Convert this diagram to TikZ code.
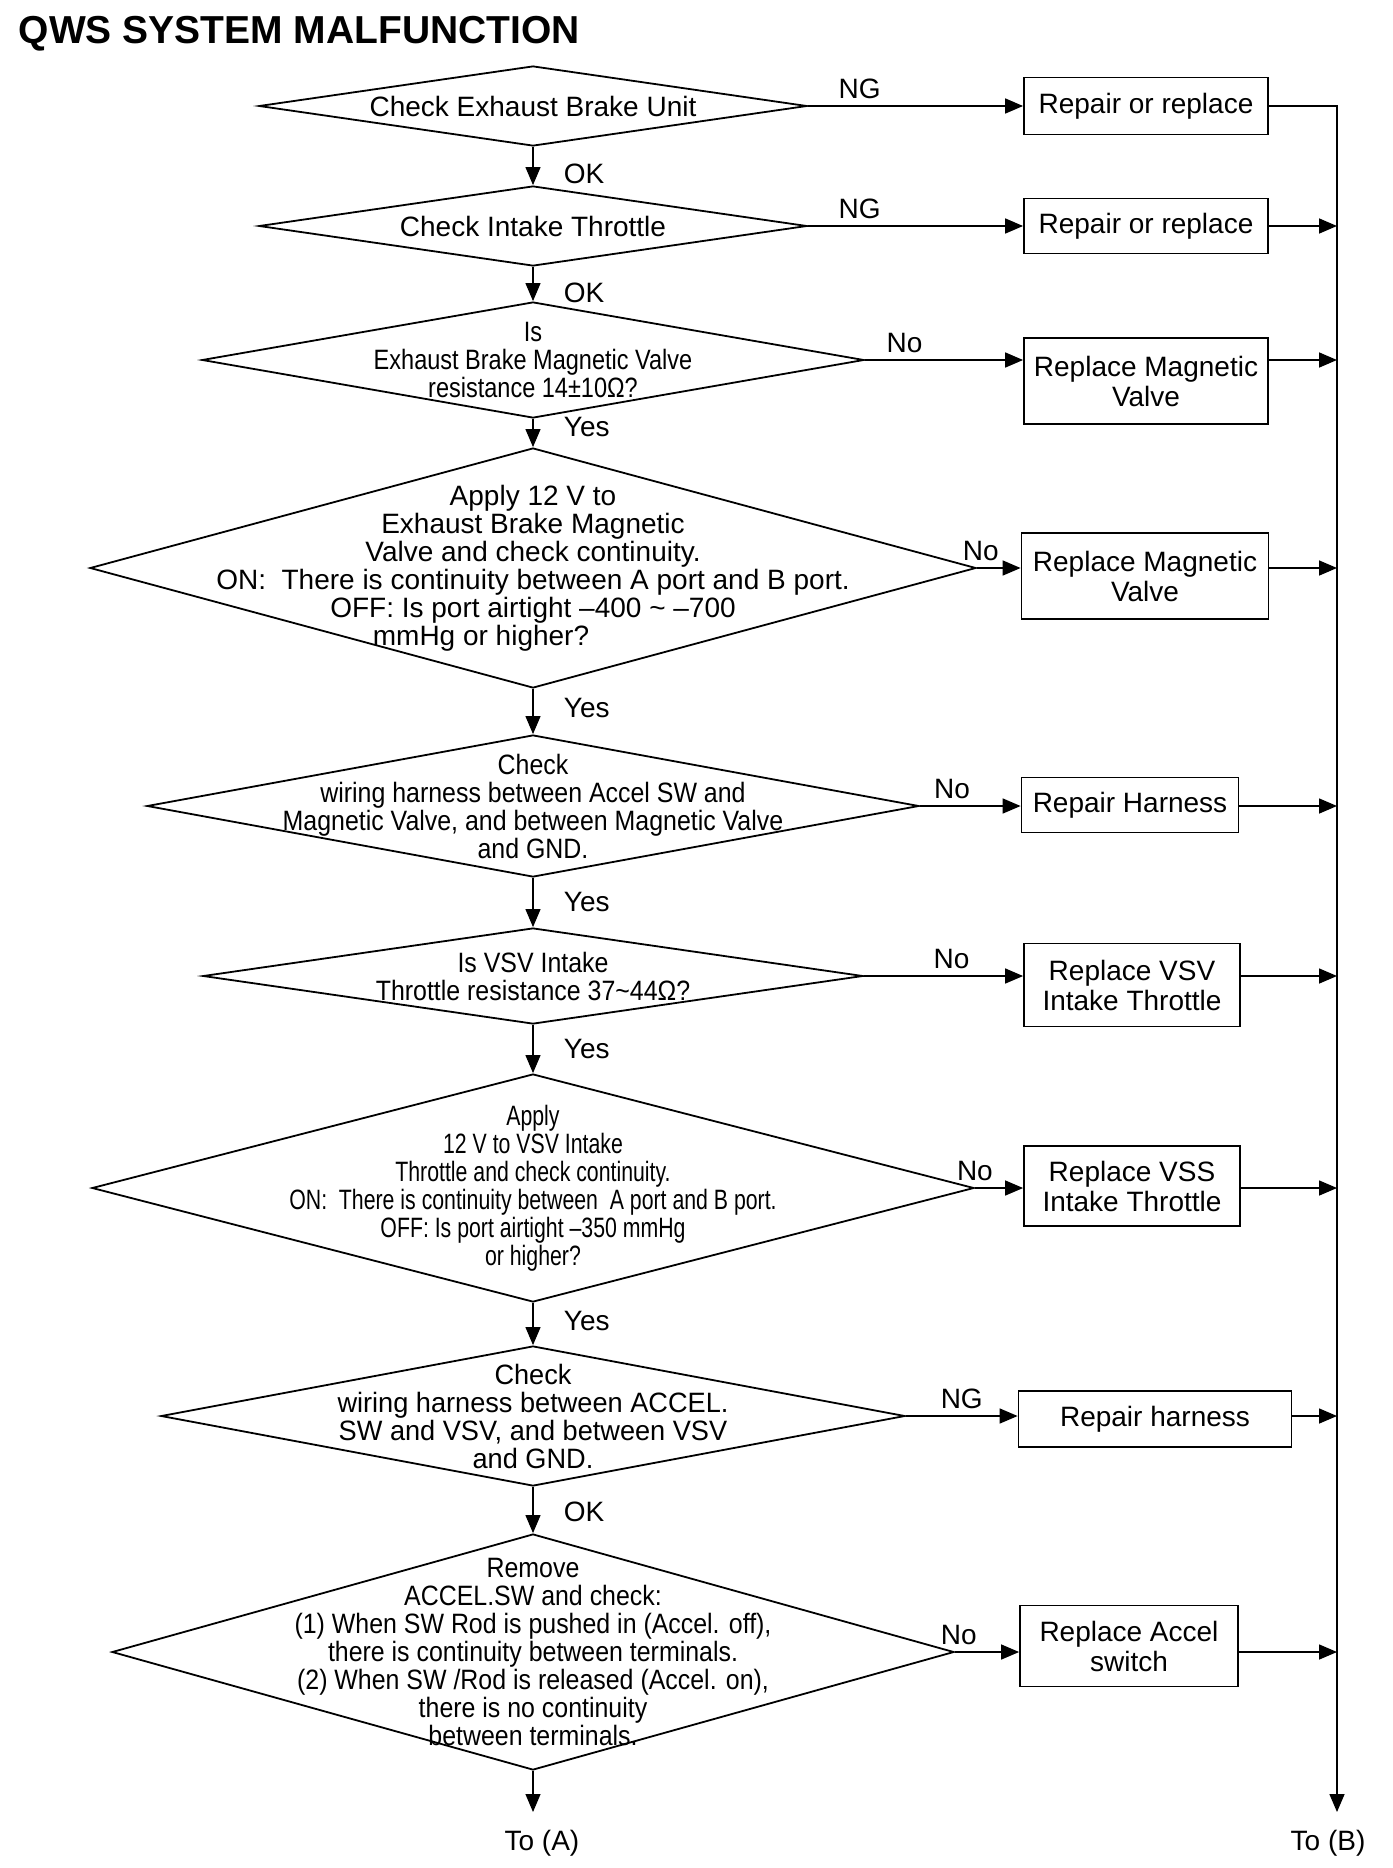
\documentclass[tikz,border=0pt]{standalone}
\usepackage{fontspec}
\setmainfont{Liberation Sans}
\newfontfamily\narrowfontA[FakeStretch=0.76]{Liberation Sans}
\newfontfamily\narrowfontB[FakeStretch=0.84]{Liberation Sans}
\newfontfamily\narrowfontC[FakeStretch=0.89]{Liberation Sans}
\newfontfamily\narrowfontD[FakeStretch=0.97]{Liberation Sans}
\usetikzlibrary{shapes.geometric, arrows.meta, positioning}

\begin{document}
\begin{tikzpicture}[x=1pt, y=-1pt, line width=1.6pt]
        % Define block styles
        \tikzstyle{diamondnode} = [diamond, draw, line width=1.8pt, inner sep=0pt]
        \tikzstyle{squarednode} = [rectangle, draw, line width=1.8pt, align=center, font=\fontsize{28}{30}\selectfont]
        \tikzstyle{textnode} = [align=center, inner sep=0pt, font=\fontsize{28}{28}\selectfont]
        \tikzstyle{answer} = [font=\fontsize{28}{28}\selectfont]
        \tikzstyle{line} = [draw, -{Triangle[length=18pt, width=15pt]}]
        \tikzstyle{downline} = [line, line width=1.1pt]

        \useasboundingbox (0,0) rectangle (1392,1868);

        % Title
        \node [anchor=base west, inner sep=0pt, font=\bfseries\fontsize{39}{39}\selectfont] (title) at (18,44) {QWS SYSTEM MALFUNCTION};

        % Define nodes
        \node [diamondnode, minimum width=548, minimum height=80] (D1) at (533,106) {};
        \node [diamondnode, minimum width=548, minimum height=80] (D2) at (533,226) {};
        \node [diamondnode, minimum width=662, minimum height=116] (D3) at (533,360) {};
        \node [diamondnode, minimum width=886, minimum height=240] (D4) at (533,568) {};
        \node [diamondnode, minimum width=772, minimum height=142] (D5) at (533,806) {};
        \node [diamondnode, minimum width=660, minimum height=96] (D6) at (533,976) {};
        \node [diamondnode, minimum width=882, minimum height=228] (D7) at (533,1188) {};
        \node [diamondnode, minimum width=744, minimum height=140] (D8) at (533,1416) {};
        \node [diamondnode, minimum width=842, minimum height=236] (D9) at (533,1652) {};

        \node [textnode] (T1) at (D1) {Check Exhaust Brake Unit};
        \node [textnode] (T2) at (D2) {Check Intake Throttle};
        \node [textnode, font=\narrowfontB\fontsize{28}{28}\selectfont] (T3) at (D3) {Is\\Exhaust Brake Magnetic Valve\\resistance 14±10Ω?};
        \node [textnode] (T4) at (D4) {Apply 12 V to\\Exhaust Brake Magnetic\\Valve and check continuity.\\ON:\ \ There is continuity between A port and B port.\hspace*{20pt}\\OFF: Is port airtight –400 \textasciitilde{} –700\hspace*{52pt}\\mmHg or higher?\hspace*{104pt}};
        \node [textnode, font=\narrowfontC\fontsize{28}{28}\selectfont] (T5) at (D5) {Check\\wiring harness between Accel SW and\\Magnetic Valve, and between Magnetic Valve\\and GND.};
        \node [textnode, font=\narrowfontC\fontsize{28}{28}\selectfont] (T6) at (D6) {Is VSV Intake\\Throttle resistance 37\textasciitilde44Ω?};
        \node [textnode, font=\narrowfontA\fontsize{28}{28}\selectfont] (T7) at (D7) {Apply\\12 V to VSV Intake\\Throttle and check continuity.\\ON:\ \ There is continuity between\ \ A port and B port.\\OFF: Is port airtight –350 mmHg\\or higher?};
        \node [textnode, font=\narrowfontD\fontsize{28}{28}\selectfont] (T8) at (D8) {Check\\wiring harness between ACCEL.\\SW and VSV, and between VSV\\and GND.};
        \node [textnode, font=\narrowfontC\fontsize{28}{28}\selectfont] (T9) at (D9) {Remove\\ACCEL.SW and check:\\(1) When SW Rod is pushed in (Accel. off),\\there is continuity between terminals.\\(2) When SW /Rod is released (Accel. on),\\there is no continuity\\between terminals.};

        \node [squarednode, minimum width=244, minimum height=57] (R1) at (1146,106) {Repair or replace};
        \node [squarednode, minimum width=244, minimum height=55] (R2) at (1146,226) {Repair or replace};
        \node [squarednode, minimum width=244, minimum height=86] (R3) at (1146,381) {Replace Magnetic\\Valve};
        \node [squarednode, minimum width=247, minimum height=86] (R4) at (1145,576) {Replace Magnetic\\Valve};
        \node [squarednode, minimum width=217, minimum height=55] (R5) at (1130,805) {Repair Harness};
        \node [squarednode, minimum width=216, minimum height=83] (R6) at (1132,985) {Replace VSV\\Intake Throttle};
        \node [squarednode, minimum width=216, minimum height=80] (R7) at (1132,1186) {Replace VSS\\Intake Throttle};
        \node [squarednode, minimum width=273, minimum height=56] (R8) at (1155,1419) {Repair harness};
        \node [squarednode, minimum width=218, minimum height=81] (R9) at (1129,1646) {Replace Accel\\switch};

        \coordinate (rail) at (1337,0);
        \coordinate (railend) at (1337,1812);
        \coordinate (endA) at (533,1812);
        \node [answer] (toA) at (542,1843) {To (A)};
        \node [answer] (toB) at (1328,1843) {To (B)};

        % Connect nodes with paths
        \draw[downline] (D1.south) -- node[answer, pos=0.7, right=27pt] (ok1) {OK} (D2.north);
        \draw[downline] (D2.south) -- node[answer, pos=0.75, right=27pt] (ok2) {OK} (D3.north);
        \draw[downline] (D3.south) -- node[answer, pos=0.27, right=27pt] (yes3) {Yes} (D4.north);
        \draw[downline] (D4.south) -- node[answer, pos=0.43, right=27pt] (yes4) {Yes} (D5.north);
        \draw[downline] (D5.south) -- node[answer, pos=0.49, right=27pt] (yes5) {Yes} (D6.north);
        \draw[downline] (D6.south) -- node[answer, pos=0.5, right=27pt] (yes6) {Yes} (D7.north);
        \draw[downline] (D7.south) -- node[answer, pos=0.43, right=27pt] (yes7) {Yes} (D8.north);
        \draw[downline] (D8.south) -- node[answer, pos=0.54, right=27pt] (ok8) {OK} (D9.north);
        \draw[downline] (D9.south) -- (endA);

        \draw[line] (D1.east) -- node[answer, pos=0.24, above=3pt] (ng1) {NG} (D1.east -| R1.west);
        \draw[line] (D2.east) -- node[answer, pos=0.24, above=3pt] (ng2) {NG} (D2.east -| R2.west);
        \draw[line] (D3.east) -- node[answer, pos=0.25, above=3pt] (no3) {No} (D3.east -| R3.west);
        \draw[line] (D4.east) -- node[answer, pos=0.09, above=3pt] (no4) {No} (D4.east -| R4.west);
        \draw[line] (D5.east) -- node[answer, pos=0.32, above=3pt] (no5) {No} (D5.east -| R5.west);
        \draw[line] (D6.east) -- node[answer, pos=0.55, above=3pt] (no6) {No} (D6.east -| R6.west);
        \draw[line] (D7.east) -- node[answer, pos=0, above=3pt] (no7) {No} (D7.east -| R7.west);
        \draw[line] (D8.east) -- node[answer, pos=0.5, above=3pt] (ng8) {NG} (D8.east -| R8.west);
        \draw[line] (D9.east) -- node[answer, pos=0.06, above=3pt] (no9) {No} (D9.east -| R9.west);

        \draw[line] (R1.east) -| (railend);
        \draw[line] (D2.east -| R2.east) -- (D2.east -| rail);
        \draw[line] (D3.east -| R3.east) -- (D3.east -| rail);
        \draw[line] (D4.east -| R4.east) -- (D4.east -| rail);
        \draw[line] (D5.east -| R5.east) -- (D5.east -| rail);
        \draw[line] (D6.east -| R6.east) -- (D6.east -| rail);
        \draw[line] (D7.east -| R7.east) -- (D7.east -| rail);
        \draw[line] (D8.east -| R8.east) -- (D8.east -| rail);
        \draw[line] (D9.east -| R9.east) -- (D9.east -| rail);

\end{tikzpicture}
\end{document}
